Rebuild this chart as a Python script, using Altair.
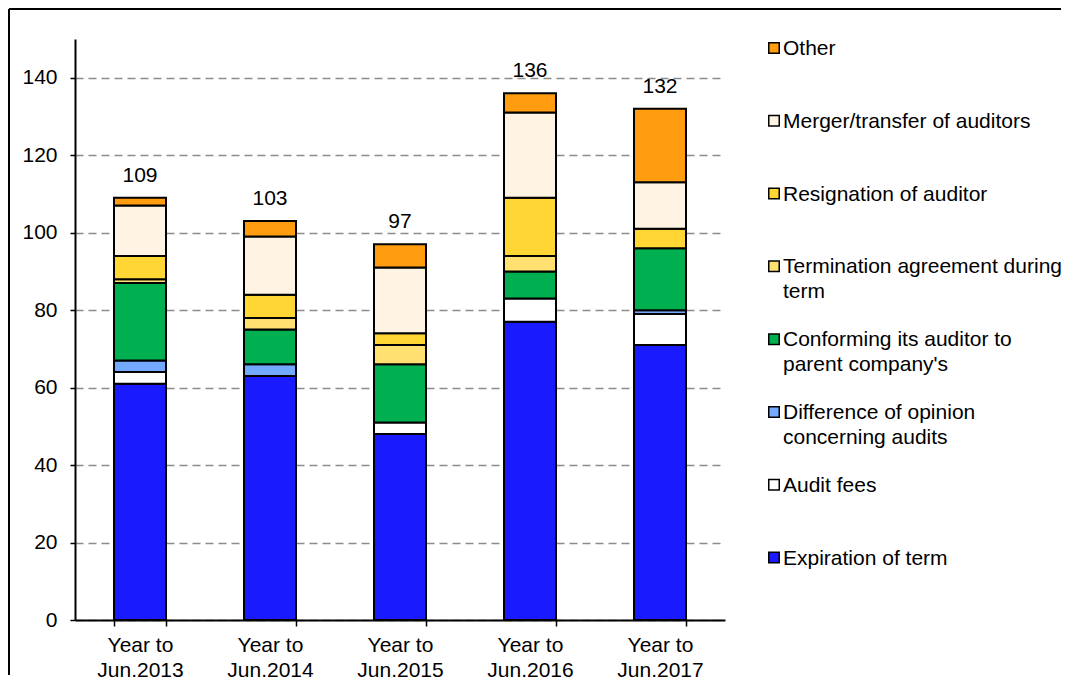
import altair as alt
import pandas as pd

years = ["Year to Jun.2013", "Year to Jun.2014", "Year to Jun.2015",
         "Year to Jun.2016", "Year to Jun.2017"]

# stacking order: bottom -> top
series = ["Expiration of term", "Audit fees",
          "Difference of opinion concerning audits",
          "Conforming its auditor to parent company's",
          "Termination agreement during term", "Resignation of auditor",
          "Merger/transfer of auditors", "Other"]
legend_labels = ["Expiration of term", "Audit fees",
                 "Difference of opinion\nconcerning audits",
                 "Conforming its auditor to\nparent company's",
                 "Termination agreement during\nterm", "Resignation of auditor",
                 "Merger/transfer of auditors", "Other"]
colors = ["#1a1aff", "#ffffff", "#73a9ff", "#00b050",
          "#ffe070", "#ffd633", "#fff3e3", "#ff9c10"]

expiration = [61, 63, 48, 77, 71]
audit_fees = [3, 0, 3, 6, 8]
difference = [3, 3, 0, 0, 1]
conforming = [20, 9, 15, 7, 16]
termination = [1, 3, 5, 4, 0]
resignation = [6, 6, 3, 15, 5]
merger = [13, 15, 17, 22, 12]
other = [2, 4, 6, 5, 19]

values = [expiration, audit_fees, difference, conforming,
          termination, resignation, merger, other]

y_ticks = [0, 20, 40, 60, 80, 100, 120, 140]

rows = []
for i, (name, vals) in enumerate(zip(series, values)):
    for yr, v in zip(years, vals):
        rows.append({"year": yr, "series": name, "idx": i, "value": v})
df = pd.DataFrame(rows)

legend_df = pd.DataFrame({"series": series, "label": legend_labels})

FONT = "Liberation Sans"
FS = 21

color_scale = alt.Scale(domain=series, range=colors)

x_enc = alt.X(
    "year:N", sort=years, title=None,
    scale=alt.Scale(paddingInner=0.6, paddingOuter=0.3),
    axis=alt.Axis(
        labelExpr="datum.label ? ['Year to', substring(datum.label, 8)] : ''",
        labelAngle=0, tickBand="extent", domainColor="black", domainWidth=2,
        tickColor="black", tickWidth=1.5, tickSize=6, labelPadding=8,
        labelFontSize=FS, labelColor="black", labelLineHeight=25,
        labelFont=FONT, grid=False),
)

y_scale = alt.Scale(domain=[0, 150], nice=False, zero=True)
y_axis = alt.Axis(
    values=y_ticks, grid=True, gridColor="#8c8c8c", gridDash=[8, 5],
    gridWidth=1.5, domainColor="black", domainWidth=2, tickColor="black",
    tickSize=5, tickWidth=1.5, labelFontSize=FS, labelPadding=13,
    labelColor="black", labelFont=FONT, title=None)

bars = alt.Chart(df).transform_filter("datum.value > 0").mark_bar(
    stroke="black", strokeWidth=2
).encode(
    x=x_enc,
    y=alt.Y("value:Q", stack="zero", scale=y_scale, axis=y_axis),
    color=alt.Color("series:N", scale=color_scale, legend=None),
    order=alt.Order("idx:Q", sort="ascending"),
)

totals = alt.Chart(df).mark_text(
    fontSize=FS, dy=-16, baseline="alphabetic", font=FONT, color="black"
).encode(
    x=alt.X("year:N", sort=years),
    y=alt.Y("sum(value):Q", scale=y_scale),
    text=alt.Text("sum(value):Q"),
)

main = alt.layer(bars, totals)

legend_y = alt.Y("series:N", sort=list(reversed(series)),
                 scale=alt.Scale(type="point", range=[9, 518.5], padding=0),
                 axis=None)

leg_sq = alt.Chart(legend_df).mark_square(
    size=110, stroke="black", strokeWidth=1.5, opacity=1
).encode(
    x=alt.value(699),
    y=legend_y,
    fill=alt.Fill("series:N", scale=color_scale, legend=None),
)

leg_txt = alt.Chart(legend_df).mark_text(
    align="left", baseline="top", dy=-10, fontSize=FS, font=FONT,
    color="black", lineBreak="\n", lineHeight=25
).encode(
    x=alt.value(708),
    y=legend_y,
    text="label:N",
)

legend = alt.layer(leg_sq, leg_txt)

frame_top = alt.Chart(legend_df).mark_rule(color="black", strokeWidth=1.5).encode(
    x=alt.value(-66), x2=alt.value(986), y=alt.value(-30))
frame_left = alt.Chart(legend_df).mark_rule(color="black", strokeWidth=1.5).encode(
    x=alt.value(-66), y=alt.value(-30), y2=alt.value(636))

chart = alt.layer(main, legend, frame_top, frame_left).resolve_scale(
    y="independent"
).properties(
    width=650, height=581, padding=0
).configure(font=FONT).configure_view(strokeWidth=0)

chart.save("out.html", embed_options={"renderer": "svg", "actions": False})
